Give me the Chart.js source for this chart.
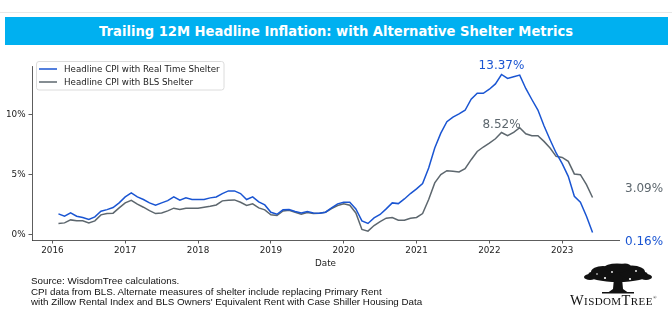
<!DOCTYPE html>
<html><head><meta charset="utf-8">
<script src="https://cdn.jsdelivr.net/npm/chart.js@4.4.0/dist/chart.umd.min.js"></script>
<style>
html,body{margin:0;padding:0;background:#fff;width:672px;height:319px;overflow:hidden;}
#wrap{position:relative;width:672px;height:319px;}
#topline{position:absolute;left:0;top:12px;width:672px;height:1px;background:#e8e8e8;}
#bar{position:absolute;left:5px;top:17px;width:663px;height:28px;background:#00b0f0;}
#title{position:absolute;left:0;top:17px;width:672px;height:28px;line-height:28px;text-align:center;color:#fff;font-family:"DejaVu Sans";font-weight:bold;font-size:14px;white-space:nowrap;}
#tt{display:inline-block;transform-origin:center center;}
#c{position:absolute;left:0;top:0;}
#foot{position:absolute;left:31px;top:276px;font-family:"Liberation Sans";font-size:9.8px;line-height:10.5px;color:#111;white-space:nowrap;}
#tree{position:absolute;left:583px;top:263px;}
#logotext{position:absolute;left:570px;top:291px;font-family:"Liberation Serif";color:#111;white-space:nowrap;letter-spacing:0.4px;}
#logotext .b{font-size:14.5px;}
#logotext .s{font-size:11px;}
#logotext sup{font-size:5px;}
</style></head>
<body><div id="wrap">
<div id="topline"></div>
<div id="bar"></div>
<div id="title"><span id="tt">Trailing 12M Headline Inflation: with Alternative Shelter Metrics</span></div>
<canvas id="c" width="672" height="319"></canvas>
<div id="foot">Source: WisdomTree calculations.<br>CPI data from BLS. Alternate measures of shelter include replacing Primary Rent<br>with Zillow Rental Index and BLS Owners' Equivalent Rent with Case Shiller Housing Data</div>
<svg id="tree" width="70" height="32" viewBox="0 0 70 32">
<g fill="#111">
<ellipse cx="35" cy="12" rx="30" ry="7"/>
<ellipse cx="20" cy="9" rx="12" ry="6"/>
<ellipse cx="49" cy="9" rx="13" ry="6.5"/>
<ellipse cx="34" cy="5" rx="13" ry="4.5"/>
<ellipse cx="42" cy="3.5" rx="6" ry="3"/>
<ellipse cx="7" cy="14" rx="6" ry="3"/>
<ellipse cx="63" cy="14" rx="6" ry="3"/>
<path d="M31 15 L30 26 L25 29.5 L45 29.5 L40 26 L39 15 Z"/>
<rect x="19" y="29" width="32" height="1.5"/>
</g>
<g fill="#fff"><circle cx="22" cy="15" r="1.1"/><circle cx="47" cy="16" r="1.1"/><circle cx="29" cy="9" r="0.9"/><circle cx="53" cy="8" r="0.9"/><circle cx="14" cy="11" r="0.8"/></g>
</svg>
<div id="logotext"><span class="b">W</span><span class="s">ISDOM</span><span class="b">T</span><span class="s">REE</span><sup>®</sup></div>
</div>
<script>
// ---- data (monthly, Feb 2016 .. Jun 2023) ----
const startYear = 2016, startMonth = 2;
const realTimeShelter = [
 1.72,1.53,1.80,1.53,1.42,1.25,1.47,1.94,2.08,2.25,2.64,
 3.14,3.47,3.14,2.92,2.64,2.44,2.64,2.83,3.14,2.86,3.06,2.92,
 2.92,2.92,3.06,3.14,3.42,3.64,3.64,3.42,2.92,3.14,2.72,2.47,
 1.86,1.69,2.06,2.08,1.92,1.80,1.92,1.80,1.78,1.86,2.22,2.56,
 2.69,2.70,2.14,1.14,0.92,1.39,1.67,2.14,2.64,2.58,2.97,3.42,
 3.81,4.25,5.56,7.22,8.47,9.42,9.81,10.08,10.38,11.30,11.80,11.80,
 12.14,12.58,13.37,13.04,13.18,13.32,12.20,11.28,10.40,9.08,7.92,6.81,
 5.92,4.86,3.19,2.69,1.53,0.16
];
const blsShelter = [
 0.92,0.97,1.22,1.14,1.14,0.97,1.14,1.64,1.75,1.78,2.22,
 2.64,2.86,2.53,2.28,2.00,1.75,1.80,1.97,2.20,2.08,2.20,2.20,
 2.20,2.28,2.36,2.47,2.81,2.86,2.89,2.69,2.42,2.56,2.22,2.06,
 1.64,1.58,1.97,2.03,1.86,1.69,1.83,1.75,1.78,1.86,2.17,2.42,
 2.56,2.45,1.80,0.42,0.28,0.75,1.08,1.36,1.42,1.19,1.19,1.36,
 1.42,1.75,2.92,4.31,5.00,5.33,5.28,5.22,5.50,6.25,6.94,7.31,
 7.64,8.00,8.52,8.25,8.53,8.92,8.42,8.25,8.25,7.78,7.22,6.53,
 6.44,6.11,5.06,5.00,4.17,3.09
];
const seriesLabels = ["Headline CPI with Real Time Shelter", "Headline CPI with BLS Shelter"];
const yearTicks = [2016,2017,2018,2019,2020,2021,2022,2023];
const pctTicks = [0,5,10];

const BLUE = "#1a55d2", GRAY = "#5d676e";
const dates = realTimeShelter.map((_, i) => startYear + (startMonth - 1 + i) / 12);
const toPts = arr => arr.map((v, i) => ({x: dates[i], y: v}));

// title width fit
const tt = document.getElementById('tt');
const tw = tt.getBoundingClientRect().width;
tt.style.transform = 'scaleX(' + (474 / tw).toFixed(4) + ')';

const fmt = v => v.toFixed(2) + '%';

const overlay = {
  id: 'overlay',
  afterDatasetsDraw(chart) {
    const ctx = chart.ctx, xs = chart.scales.x, ys = chart.scales.y;
    ctx.save();
    let pi = 0;
    realTimeShelter.forEach((v, i) => { if (v > realTimeShelter[pi]) pi = i; });
    const px = xs.getPixelForValue(dates[pi]);
    ctx.font = '12px "DejaVu Sans"';
    ctx.textAlign = 'center';
    ctx.textBaseline = 'alphabetic';
    ctx.fillStyle = BLUE;
    ctx.fillText(fmt(realTimeShelter[pi]), px, ys.getPixelForValue(realTimeShelter[pi]) - 5);
    ctx.fillStyle = GRAY;
    ctx.fillText(fmt(blsShelter[pi]), px, ys.getPixelForValue(blsShelter[pi]) - 5);
    const n = realTimeShelter.length - 1;
    const lx = chart.chartArea.right + 6;
    ctx.textAlign = 'left';
    ctx.fillStyle = GRAY;
    ctx.fillText(fmt(blsShelter[n]), lx, ys.getPixelForValue(blsShelter[n]) - 5.5);
    ctx.fillStyle = BLUE;
    ctx.fillText(fmt(realTimeShelter[n]), lx, ys.getPixelForValue(realTimeShelter[n]) + 12.5);
    // legend
    const bx = 36.5, by = 61.5, bw = 187.5, bh = 28.5, r = 2.5;
    ctx.beginPath();
    ctx.moveTo(bx + r, by); ctx.lineTo(bx + bw - r, by); ctx.arcTo(bx + bw, by, bx + bw, by + r, r);
    ctx.lineTo(bx + bw, by + bh - r); ctx.arcTo(bx + bw, by + bh, bx + bw - r, by + bh, r);
    ctx.lineTo(bx + r, by + bh); ctx.arcTo(bx, by + bh, bx, by + bh - r, r);
    ctx.lineTo(bx, by + r); ctx.arcTo(bx, by, bx + r, by, r); ctx.closePath();
    ctx.fillStyle = 'rgba(255,255,255,0.85)'; ctx.fill();
    ctx.strokeStyle = '#dcdcdc'; ctx.lineWidth = 1; ctx.stroke();
    const cols = [BLUE, GRAY];
    ctx.font = '8.7px "DejaVu Sans"';
    ctx.textBaseline = 'middle';
    seriesLabels.forEach((lab, k) => {
      const y = 69 + k * 13;
      ctx.strokeStyle = cols[k]; ctx.lineWidth = 1.5;
      ctx.beginPath(); ctx.moveTo(39, y); ctx.lineTo(57, y); ctx.stroke();
      ctx.fillStyle = '#222';
      ctx.fillText(lab, 64, y + 0.5);
    });
    ctx.restore();
  }
};

new Chart(document.getElementById('c'), {
  type: 'line',
  data: {
    datasets: [
      {label: seriesLabels[0], data: toPts(realTimeShelter), borderColor: BLUE, borderWidth: 1.5, pointRadius: 0, tension: 0, fill: false},
      {label: seriesLabels[1], data: toPts(blsShelter), borderColor: GRAY, borderWidth: 1.5, pointRadius: 0, tension: 0, fill: false}
    ]
  },
  options: {
    responsive: false,
    animation: false,
    devicePixelRatio: 1,
    layout: {padding: {left: 0, right: 53, top: 66.7, bottom: 49}},
    plugins: {legend: {display: false}, tooltip: {enabled: false}},
    scales: {
      x: {
        type: 'linear', min: 2015.72, max: 2023.78,
        afterBuildTicks: s => { s.ticks = yearTicks.map(v => ({value: v})); },
        afterFit: s => { s.height = 30; },
        ticks: {callback: v => String(v), color: '#222', font: {family: 'DejaVu Sans', size: 8.8}, padding: 2, maxRotation: 0, autoSkip: false},
        grid: {display: true, drawOnChartArea: false, drawTicks: true, tickLength: 3.5, tickColor: '#333', tickWidth: 0.8},
        border: {display: true, color: '#333', width: 0.8},
        title: {display: true, text: 'Date', color: '#222', font: {family: 'DejaVu Sans', size: 8.8}, padding: {top: 0, bottom: 1}}
      },
      y: {
        type: 'linear', min: -0.46, max: 14.02,
        afterBuildTicks: s => { s.ticks = pctTicks.map(v => ({value: v})); },
        afterFit: s => { s.width = 32; },
        ticks: {callback: v => v + '%', color: '#222', font: {family: 'DejaVu Sans', size: 8.8}, padding: 3},
        grid: {display: true, drawOnChartArea: false, drawTicks: true, tickLength: 3.5, tickColor: '#333', tickWidth: 0.8},
        border: {display: true, color: '#333', width: 0.8}
      }
    }
  },
  plugins: [overlay]
});
</script>
</body></html>
